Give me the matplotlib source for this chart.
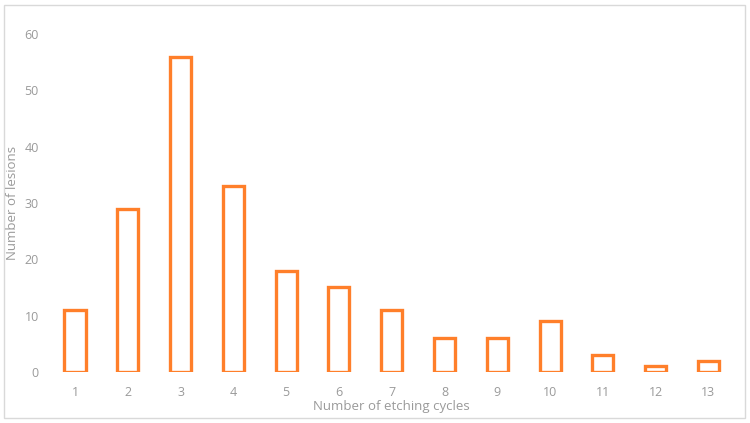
import matplotlib.pyplot as plt
from matplotlib.patches import Rectangle

cycles = [1, 2, 3, 4, 5, 6, 7, 8, 9, 10, 11, 12, 13]
lesions = [11, 29, 56, 33, 18, 15, 11, 6, 6, 9, 3, 1, 2]
yticks = [0, 10, 20, 30, 40, 50, 60]

plt.rcParams['font.family'] = ['Open Sans', 'DejaVu Sans']
grey = '#9a9a9a'

fig = plt.figure(figsize=(7.5, 4.23), dpi=100)
ax = fig.add_axes([0.0648, 0.1206, 0.915, 0.799])

ax.bar(cycles, lesions, width=0.4, facecolor='white', edgecolor='#ff7f2a', linewidth=2.4)

ax.set_xlim(0.5, 13.5)
ax.set_ylim(0, 60)
ax.set_xticks(cycles)
ax.set_xticklabels([str(c) for c in cycles])
ax.set_yticks(yticks)
ax.tick_params(length=0, colors=grey, labelsize=9)
ax.tick_params(axis='x', pad=10)
ax.tick_params(axis='y', pad=7)
for s in ax.spines.values():
    s.set_visible(False)

ax.set_xlabel('Number of etching cycles', color=grey, fontsize=9.5, labelpad=1)
# y label sits right against the tick labels, as in the original
fig.text(0.017, 0.52, 'Number of lesions', rotation=90, color=grey, fontsize=9.5,
         ha='center', va='center')

fig.patches.append(Rectangle((0.005, 0.012), 0.988, 0.976, transform=fig.transFigure,
                             fill=False, edgecolor='#d9d9d9', linewidth=1))

fig.savefig('out.png', dpi=100)
